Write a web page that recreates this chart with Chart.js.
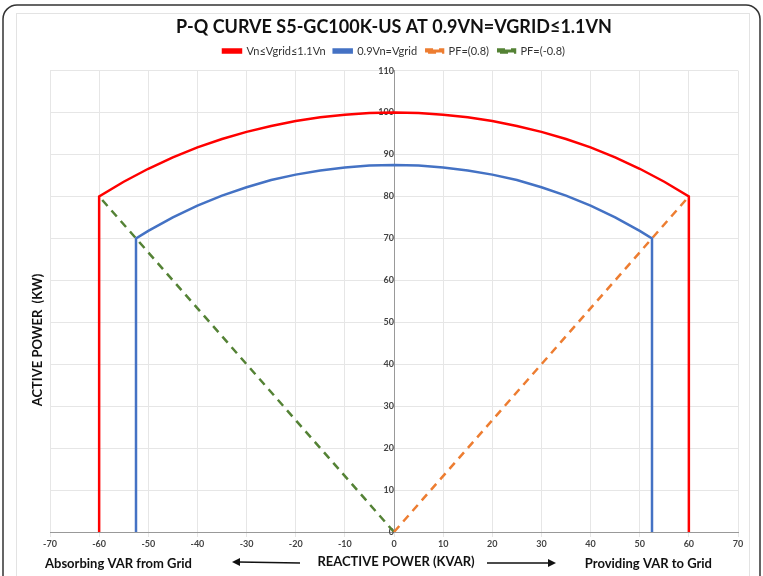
<!DOCTYPE html>
<html>
<head>
<meta charset="utf-8">
<script src="https://cdn.jsdelivr.net/npm/chart.js@4.4.1/dist/chart.umd.min.js"></script>
<style>
  html, body { margin: 0; padding: 0; background: #fff; }
  #wrap { width: 763px; height: 576px; position: relative; }
</style>
</head>
<body>
<div id="wrap"><canvas id="pqChart" width="763" height="576"></canvas></div>
<script>
// Vn<=Vgrid<=1.1Vn : vertical at -60, arc, vertical at 60
const redX = [-60, -60, -55, -50, -45, -40, -35, -30, -25, -20, -15, -10, -5, 0, 5, 10, 15, 20, 25, 30, 35, 40, 45, 50, 55, 60, 60];
const redY = [0, 80, 83.5, 86.6, 89.3, 91.7, 93.7, 95.4, 96.8, 98.0, 98.9, 99.5, 99.9, 100, 99.9, 99.5, 98.9, 98.0, 96.8, 95.4, 93.7, 91.7, 89.3, 86.6, 83.5, 80, 0];

// 0.9Vn=Vgrid
const blueX = [-52.5, -52.5, -50, -45, -40, -35, -30, -25, -20, -15, -10, -5, 0, 5, 10, 15, 20, 25, 30, 35, 40, 45, 50, 52.5, 52.5];
const blueY = [0, 70, 71.8, 75.0, 77.8, 80.2, 82.2, 83.9, 85.2, 86.2, 86.9, 87.4, 87.5, 87.4, 86.9, 86.2, 85.2, 83.9, 82.2, 80.2, 77.8, 75.0, 71.8, 70, 0];

// power factor lines
const pfPosX = [0, 60];
const pfPosY = [0, 80];
const pfNegX = [0, -60];
const pfNegY = [0, 80];

const seriesNames = ['Vn\u2264Vgrid\u22641.1Vn', '0.9Vn=Vgrid', 'PF=(0.8)', 'PF=(-0.8)'];

function pts(xs, ys) {
    return xs.map((x, i) => ({ x: x, y: ys[i] }));
}

const FONT = 'Lato, "Open Sans", sans-serif';

// frame + axis titles drawn on the canvas
const extras = {
    id: 'extras',
    beforeInit(chart) {
        // a bit more room under the legend
        const lg = chart.legend;
        const origFit = lg.fit;
        lg.fit = function () {
            origFit.call(this);
            this.height += 4;
        };
    },
    beforeDraw(chart) {
        const c = chart.ctx;
        c.save();
        c.strokeStyle = '#e3e3e3';
        c.lineWidth = 1;
        c.strokeRect(16.5, 13.5, 733, 600);
        c.strokeStyle = '#333';
        c.lineWidth = 1.5;
        c.beginPath();
        c.roundRect(3, 5, 757, 620, 14);
        c.stroke();
        c.restore();
    },
    afterDraw(chart) {
        const c = chart.ctx;
        c.save();
        c.fillStyle = '#111';
        c.font = 'bold 13px ' + FONT;
        c.textBaseline = 'middle';

        c.save();
        c.translate(38, 340);
        c.rotate(-Math.PI / 2);
        c.textAlign = 'center';
        c.fillText('ACTIVE POWER  (KW)', 0, 0);
        c.restore();

        c.textAlign = 'left';
        c.fillText('Absorbing VAR from Grid', 45, 564);
        c.textAlign = 'center';
        c.fillText('REACTIVE POWER (KVAR)', 396, 562);
        c.textAlign = 'right';
        c.fillText('Providing VAR to Grid', 712, 564);

        // arrows
        c.strokeStyle = '#111';
        c.lineWidth = 1.5;
        c.beginPath();
        c.moveTo(300, 563); c.lineTo(238, 562);
        c.moveTo(487, 563); c.lineTo(549, 563);
        c.stroke();
        c.beginPath();
        c.moveTo(232, 562); c.lineTo(240, 558); c.lineTo(240, 566); c.closePath();
        c.moveTo(556, 563); c.lineTo(548, 559); c.lineTo(548, 567); c.closePath();
        c.fill();
        c.restore();
    }
};

new Chart(document.getElementById('pqChart').getContext('2d'), {
    type: 'line',
    data: {
        datasets: [{
            label: seriesNames[0],
            data: pts(redX, redY),
            borderColor: '#ff0000',
            backgroundColor: '#ff0000',
            borderWidth: 2.5,
            pointRadius: 0,
            tension: 0
        }, {
            label: seriesNames[1],
            data: pts(blueX, blueY),
            borderColor: '#4472c4',
            backgroundColor: '#4472c4',
            borderWidth: 2.5,
            pointRadius: 0,
            tension: 0
        }, {
            label: seriesNames[2],
            data: pts(pfPosX, pfPosY),
            borderColor: '#ed7d31',
            backgroundColor: '#ed7d31',
            borderWidth: 2.5,
            borderDash: [8, 6],
            pointRadius: 0
        }, {
            label: seriesNames[3],
            data: pts(pfNegX, pfNegY),
            borderColor: '#548235',
            backgroundColor: '#548235',
            borderWidth: 2.5,
            borderDash: [8, 6],
            pointRadius: 0
        }]
    },
    options: {
        responsive: false,
        animation: false,
        layout: { padding: { left: 50, right: 25, top: 0, bottom: 44 } },
        plugins: {
            title: {
                display: true,
                text: 'P-Q CURVE S5-GC100K-US AT 0.9VN=VGRID\u22641.1VN',
                color: '#111',
                font: { family: FONT, size: 18, weight: 'bold' },
                padding: { top: 16, bottom: 0 }
            },
            legend: {
                labels: {
                    color: '#333',
                    font: { family: FONT, size: 11 },
                    boxWidth: 18,
                    boxHeight: 3,
                    padding: 8
                }
            },
            tooltip: { enabled: false }
        },
        scales: {
            x: {
                type: 'linear',
                position: { y: 0 },
                min: -70,
                max: 70,
                ticks: {
                    stepSize: 10,
                    color: '#444',
                    font: { family: FONT, size: 9, weight: 'bold' }
                },
                grid: { color: '#e6e6e6', tickLength: 4 },
                border: { color: '#999' }
            },
            y: {
                type: 'linear',
                position: { x: 0 },
                min: 0,
                max: 110,
                ticks: {
                    stepSize: 10,
                    color: '#444',
                    font: { family: FONT, size: 9, weight: 'bold' }
                },
                grid: { color: '#e6e6e6', tickLength: 4 },
                border: { color: '#999' }
            }
        }
    },
    plugins: [extras]
});
</script>
</body>
</html>
